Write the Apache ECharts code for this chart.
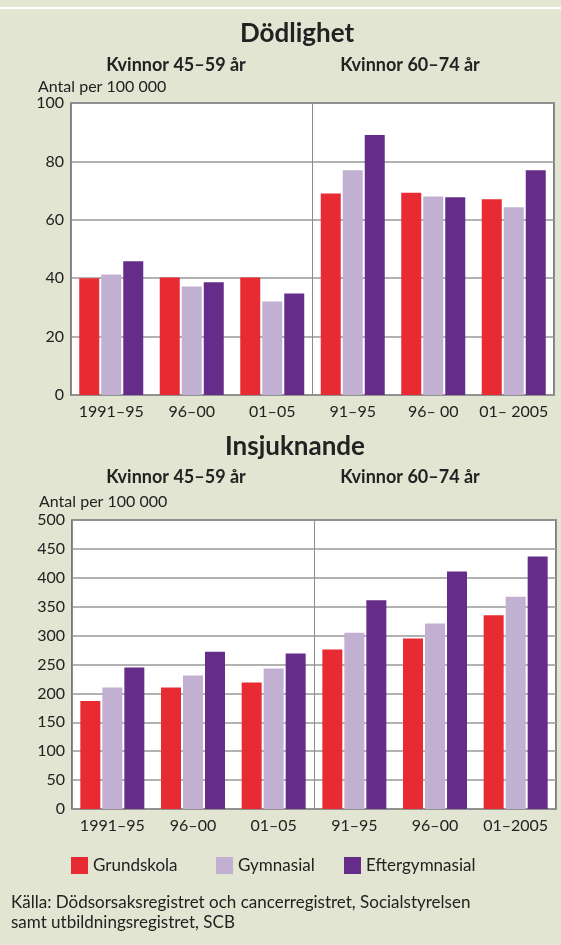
<!DOCTYPE html>
<html>
<head>
<meta charset="utf-8">
<script src="https://cdn.jsdelivr.net/npm/echarts@6/dist/echarts.min.js"></script>
<style>
  html, body { margin: 0; padding: 0; background: #e1e5d1; }
  #chart { width: 561px; height: 945px; }
</style>
</head>
<body>
<div id="chart"></div>
<script>
// kategorier
const periodsTop = ['1991–95', '96–00', '01–05', '91–95', '96– 00', '01– 2005'];
const periodsBottom = ['1991–95', '96–00', '01–05', '91–95', '96–00', '01–2005'];
const groups = ['Grundskola', 'Gymnasial', 'Eftergymnasial'];

// Dödlighet, antal per 100 000
const dodGrund = [40, 40.2, 40.2, 69, 69.3, 67];
const dodGymn = [41.3, 37.2, 32, 77, 68, 64.3];
const dodEfter = [45.8, 38.6, 34.8, 89, 67.7, 77];

// Insjuknande, antal per 100 000
const insGrund = [187, 210, 219, 276, 295, 335];
const insGymn = [210, 231, 243, 305, 321, 367];
const insEfter = [245, 272, 269, 361, 411, 437];

const colors = ['#e82a33', '#c1b0d1', '#652d89'];
const font = 'Lato, "Open Sans", sans-serif';
const textColor = '#222';

const chart = echarts.init(document.getElementById('chart'));

function catAxis(gridIndex, data) {
  return {
    type: 'category',
    gridIndex: gridIndex,
    data: data,
    axisLine: { show: false },
    axisTick: { show: false },
    axisLabel: { interval: 0, color: textColor, fontFamily: font, fontSize: 16, margin: 9 },
    splitLine: { show: false }
  };
}

// hjälpaxel som ger mittlinjen mellan åldersgrupperna
function dividerAxis(gridIndex) {
  return {
    type: 'category',
    gridIndex: gridIndex,
    data: ['a', 'b'],
    axisLine: { show: false },
    axisTick: { show: false },
    axisLabel: { show: false },
    splitLine: { show: true, lineStyle: { color: '#8c8c8c', width: 1 } }
  };
}

function valAxis(gridIndex, max, interval) {
  return {
    type: 'value',
    gridIndex: gridIndex,
    min: 0,
    max: max,
    interval: interval,
    axisLine: { show: false },
    axisTick: { show: false },
    axisLabel: { color: textColor, fontFamily: font, fontSize: 16, margin: 7 },
    splitLine: { lineStyle: { color: '#999', width: 1.5 } }
  };
}

function bars(data, idx, xAxisIndex, yAxisIndex) {
  return {
    name: groups[idx],
    type: 'bar',
    xAxisIndex: xAxisIndex,
    yAxisIndex: yAxisIndex,
    barWidth: 20,
    barGap: '10%',
    itemStyle: { color: colors[idx] },
    data: data
  };
}

function label(text, x, y, size, bold, align) {
  return {
    type: 'text',
    x: x,
    y: y,
    style: {
      text: text,
      fill: textColor,
      font: (bold ? 'bold ' : '') + size + 'px ' + font,
      textAlign: align || 'left',
      textVerticalAlign: 'middle',
      lineHeight: 20
    }
  };
}

function legendItem(idx, left) {
  return {
    data: [groups[idx]],
    left: left,
    top: 852,
    itemWidth: 17,
    itemHeight: 17,
    itemGap: 0,
    icon: 'rect',
    textStyle: { color: textColor, fontFamily: font, fontSize: 17 }
  };
}

chart.setOption({
  backgroundColor: '#e1e5d1',
  animation: false,
  graphic: [
    { type: 'rect', shape: { x: 0, y: 7, width: 561, height: 2 }, style: { fill: '#ffffff' } },
    label('Dödlighet', 297, 34, 26, true, 'center'),
    label('Kvinnor 45–59 år', 176, 65, 18, true, 'center'),
    label('Kvinnor 60–74 år', 410, 65, 18, true, 'center'),
    label('Antal per 100 000', 38, 87, 16, false),
    label('Insjuknande', 295, 447, 26, true, 'center'),
    label('Kvinnor 45–59 år', 176, 477, 18, true, 'center'),
    label('Kvinnor 60–74 år', 410, 477, 18, true, 'center'),
    label('Antal per 100 000', 39, 502, 16, false),
    label('Källa: Dödsorsaksregistret och cancerregistret, Socialstyrelsen\nsamt utbildningsregistret, SCB', 11, 913, 17, false)
  ],
  legend: [legendItem(0, 66), legendItem(1, 211), legendItem(2, 339)],
  grid: [
    { left: 71, top: 103, width: 483, height: 292, show: true, backgroundColor: '#fff', borderColor: '#555', borderWidth: 1.5 },
    { left: 72, top: 520, width: 484, height: 289, show: true, backgroundColor: '#fff', borderColor: '#555', borderWidth: 1.5 }
  ],
  xAxis: [
    catAxis(0, periodsTop),
    dividerAxis(0),
    catAxis(1, periodsBottom),
    dividerAxis(1)
  ],
  yAxis: [
    valAxis(0, 100, 20),
    valAxis(1, 500, 50)
  ],
  series: [
    bars(dodGrund, 0, 0, 0),
    bars(dodGymn, 1, 0, 0),
    bars(dodEfter, 2, 0, 0),
    bars(insGrund, 0, 2, 1),
    bars(insGymn, 1, 2, 1),
    bars(insEfter, 2, 2, 1)
  ]
});

window.onresize = () => {
  chart.resize();
};
</script>
</body>
</html>
